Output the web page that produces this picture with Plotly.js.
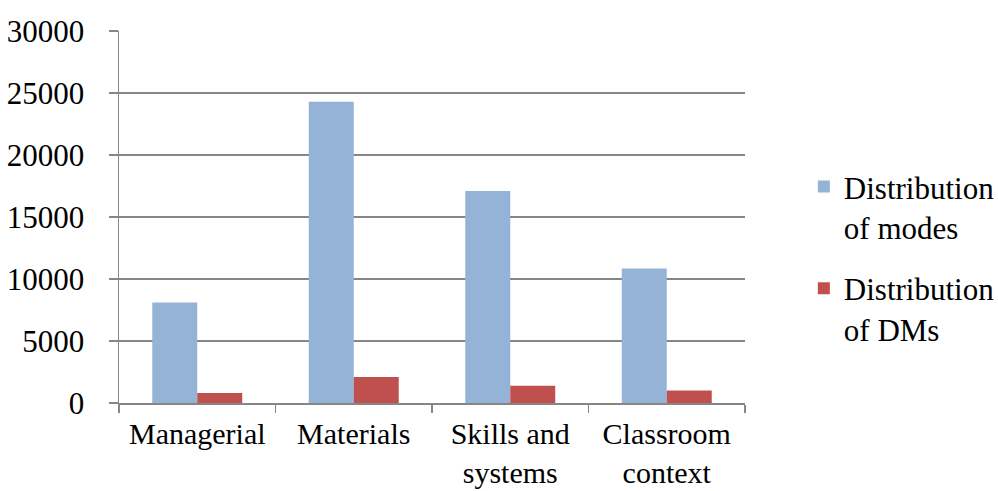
<!DOCTYPE html>
<html>
<head>
<meta charset="utf-8">
<script src="https://cdn.plot.ly/plotly-3.0.1.min.js"></script>
<style>html,body{margin:0;padding:0;background:#fff;}#chart{width:998px;height:491px;}</style>
</head>
<body>
<div id="chart"></div>
<script>
const categories = ["Managerial", "Materials", "Skills and<br>systems", "Classroom<br>context"];
const modes = [8100, 24300, 17100, 10850];
const dms = [800, 2100, 1400, 1000];
const seriesNames = ["Distribution<br>of modes", "Distribution<br>of DMs"];

const font = {family: "'Liberation Serif', 'Times New Roman', serif", size: 31, color: "#000"};
const xfont = {family: "'Liberation Serif', 'Times New Roman', serif", size: 30, color: "#000"};
const gray = "#868686";

const traces = [
  {type: "bar", x: categories, y: modes, name: seriesNames[0], legendgroup: "a",
   marker: {color: "#95B3D7"}},
  {type: "bar", x: categories, y: dms, name: seriesNames[1], legendgroup: "b",
   marker: {color: "#C0504D"}}
];

const layout = {
  width: 998, height: 491,
  margin: {l: 119, r: 253, t: 31, b: 88, autoexpand: false},
  paper_bgcolor: "#fff", plot_bgcolor: "#fff",
  font: font,
  barmode: "group", bargap: 0.425, bargroupgap: 0,
  showlegend: true,
  legend: {x: 1.094, xanchor: "left", y: 0.39, yanchor: "middle",
           font: font, tracegroupgap: 18, itemwidth: 30, valign: "top",
           traceorder: "grouped"},
  xaxis: {type: "category", showline: true, linecolor: gray, linewidth: 1.5,
          ticks: "outside", tickson: "boundaries", ticklen: 8, tickcolor: gray,
          tickwidth: 1.5, showgrid: false, tickfont: xfont, ticklabelstandoff: 3,
          fixedrange: true},
  yaxis: {range: [0, 30000], dtick: 5000, tickformat: "d", showline: true, linecolor: gray, linewidth: 1.5,
          ticks: "outside", ticklen: 9, tickcolor: gray, tickwidth: 1.5,
          showgrid: true, gridcolor: gray, gridwidth: 1.5, zeroline: false,
          tickfont: font, ticklabelstandoff: 18, fixedrange: true}
};

Plotly.newPlot("chart", traces, layout, {displayModeBar: false, staticPlot: true});
</script>
</body>
</html>
